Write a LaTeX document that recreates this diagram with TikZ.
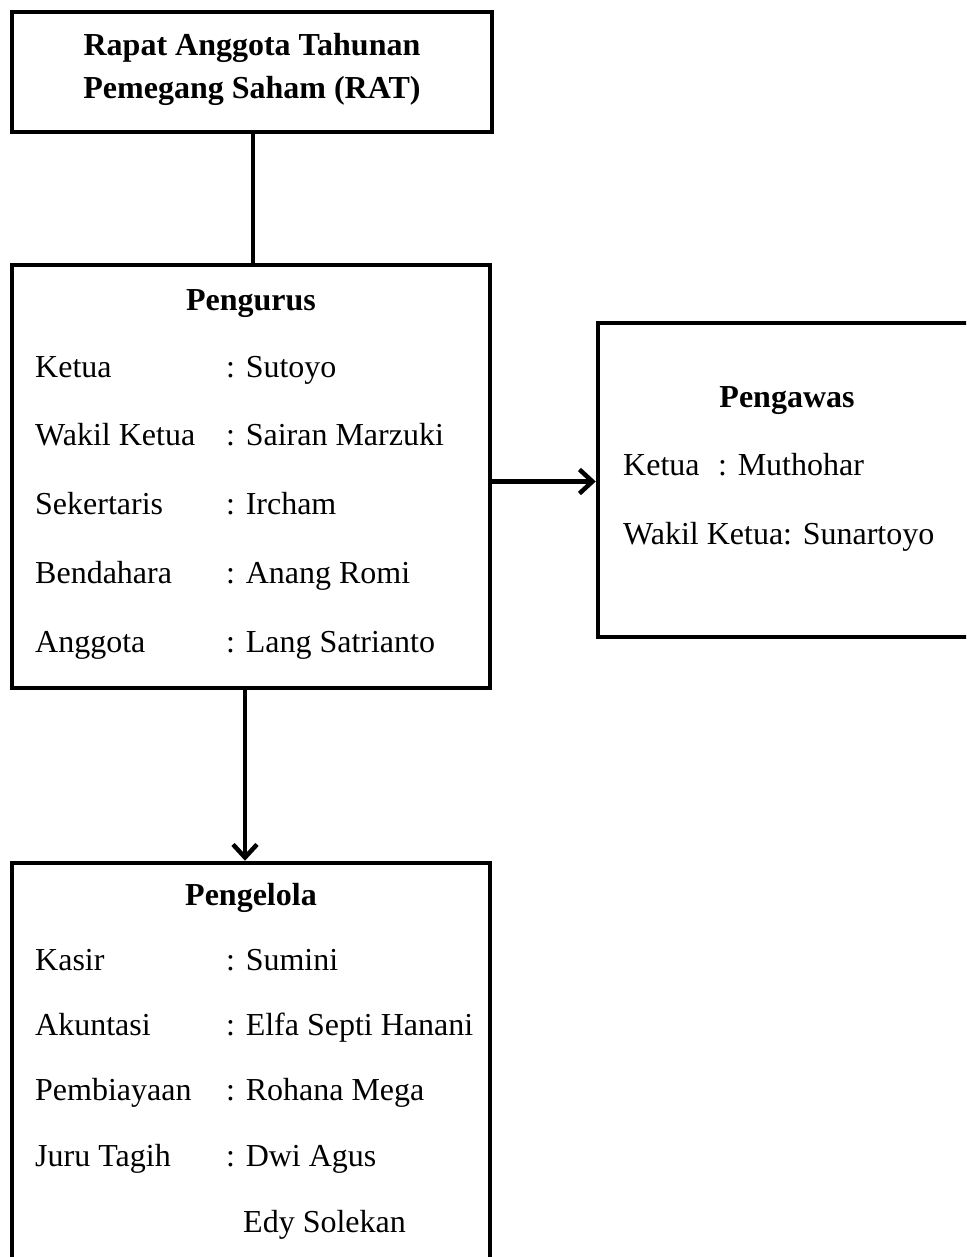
\documentclass[tikz,border=0pt]{standalone}
\usepackage{fontspec}
\setmainfont{Liberation Serif}
\usepackage{tikz}
\usetikzlibrary{arrows.meta, positioning}

\tikzset{
  box/.style={draw, line width=4.5pt, rectangle, inner sep=0pt},
  txt/.style={anchor=base west, inner sep=0pt, font=\fontsize{32}{38}\selectfont},
  ttl/.style={anchor=base, inner sep=0pt, font=\fontsize{32}{38}\selectfont\bfseries},
  link/.style={line width=4.5pt},
  arr/.style={line width=4.5pt, -{Straight Barb[length=13pt, width=24pt, line width=4.5pt]}}
}

\begin{document}
\begin{tikzpicture}[x=1pt, y=-1pt]
            \useasboundingbox (0,0) rectangle (966,1257);
            \clip (0,0) rectangle (966,1257);

            \node[box, minimum width=480, minimum height=120] (rat) at (252,72) {};
            \node[ttl] (rat1) at (252,56) {Rapat Anggota Tahunan};
            \node[ttl] (rat2) at (252,99) {Pemegang Saham (RAT)};

            \node[box, minimum width=478, minimum height=423] (pengurus) at (251,476.5) {};
            \node[ttl] (tpengurus) at (251,310) {Pengurus};
            \node[txt] (k1) at (35,377) {Ketua};        \node[txt] (v1) at (226,377) {: Sutoyo};
            \node[txt] (k2) at (35,445) {Wakil Ketua};  \node[txt] (v2) at (226,445) {: Sairan Marzuki};
            \node[txt] (k3) at (35,514) {Sekertaris};   \node[txt] (v3) at (226,514) {: Ircham};
            \node[txt] (k4) at (35,583) {Bendahara};    \node[txt] (v4) at (226,583) {: Anang Romi};
            \node[txt] (k5) at (35,652) {Anggota};      \node[txt] (v5) at (226,652) {: Lang Satrianto};

            \node[box, minimum width=402, minimum height=314] (pengawas) at (799,480) {};
            \node[ttl] (tpengawas) at (787,407) {Pengawas};
            \node[txt] (w1) at (623,475) {Ketua};       \node[txt] (u1) at (718,475) {: Muthohar};
            \node[txt] (w2) at (623,544) {Wakil Ketua: Sunartoyo};

            \node[box, minimum width=478, minimum height=437] (pengelola) at (251,1081.5) {};
            \node[ttl] (tpengelola) at (251,905) {Pengelola};
            \node[txt] (p1) at (35,970) {Kasir};        \node[txt] (q1) at (226,970) {: Sumini};
            \node[txt] (p2) at (35,1035) {Akuntasi};    \node[txt] (q2) at (226,1035) {: Elfa Septi Hanani};
            \node[txt] (p3) at (35,1100) {Pembiayaan};  \node[txt] (q3) at (226,1100) {: Rohana Mega};
            \node[txt] (p4) at (35,1166) {Juru Tagih};  \node[txt] (q4) at (226,1166) {: Dwi Agus};
            \node[txt] (q5) at (243,1232) {Edy Solekan};

            \draw[link] ([xshift=1pt]rat.south) -- ([xshift=1pt]rat.south |- pengurus.north);
            \draw[arr] ([yshift=-5pt]pengurus.east) -- ([yshift=-5pt]pengurus.east -| pengawas.west);
            \draw[arr] ([xshift=-6pt]pengurus.south) -- ([xshift=-6pt]pengurus.south |- pengelola.north);
        \end{tikzpicture}
\end{document}
